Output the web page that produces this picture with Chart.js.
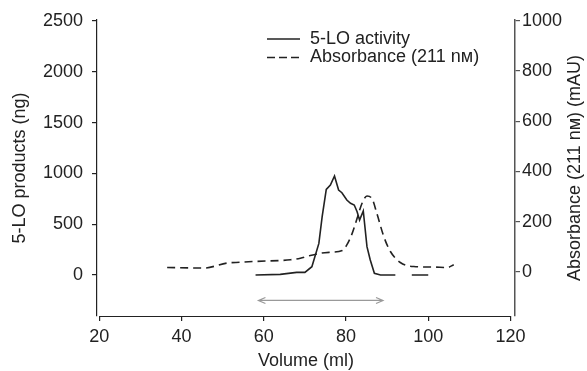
<!DOCTYPE html>
<html>
<head>
<meta charset="utf-8">
<script src="https://cdn.jsdelivr.net/npm/chart.js@4.4.0/dist/chart.umd.min.js"></script>
<style>
  html, body { margin: 0; padding: 0; background: #fff; }
  #wrap { width: 587px; height: 371px; }
</style>
</head>
<body>
<div id="wrap"><canvas id="chart"></canvas></div>
<script>
// values
const activityVolume = [58, 64, 68, 70, 71.7, 73.4, 74.2, 75.2, 76.2, 77.2, 78.2, 79.0, 80.2, 81.1, 82.0, 82.7, 83.3, 84.2, 85.1, 85.9, 86.9, 88.4, 92.0, 94, 96, 100];
const activityNg = [0, 7, 26, 26, 82, 311, 574, 843, 886, 975, 837, 810, 738, 706, 689, 623, 541, 630, 279, 148, 17, 0, 0, null, 0, 0];

const absVolume = [36.5, 45.4, 51.1, 54.3, 57.5, 66.5, 68.9, 71.3, 73.8, 76.2, 79.1, 80.2, 81.5, 82.7, 83.9, 85.1, 86.3, 87.5, 89.2, 90.8, 93.2, 96.5, 101.3, 104.6, 106.2];
const absMau = [17, 15, 35, 38, 41, 48, 54, 65, 74, 78, 85, 107, 153, 213, 273, 302, 292, 233, 140, 81, 37, 21, 19, 17, 28];

const volumeTicks = [20, 40, 60, 80, 100, 120];
const productTicks = [0, 500, 1000, 1500, 2000, 2500];
const absTicks = [0, 200, 400, 600, 800, 1000];

// grey arrow under the peaks (pooled fractions)
const poolRange = [58.7, 89];
const poolLevel = -250;

const ink = '#222';
const grey = '#555';
const fontFamily = '"Liberation Sans", Arial, "DejaVu Sans", sans-serif';
const rightTitle = 'Absorbance (211 n\u1D0D) (mAU)';

function toPoints(xs, ys) {
  return xs.map((v, i) => ({ x: v, y: ys[i] }));
}

function fixTicks(list) {
  return function(scale) {
    scale.ticks = list.map(v => ({ value: v }));
  };
}

const plain = v => String(v);

const extras = {
  id: 'extras',
  afterDraw(chart) {
    const ctx = chart.ctx;
    const xs = chart.scales.x;
    const ys = chart.scales.y;
    const area = chart.chartArea;
    ctx.save();

    // x axis line runs only from the first to the last tick
    ctx.strokeStyle = ink;
    ctx.lineWidth = 1.2;
    ctx.beginPath();
    ctx.moveTo(xs.getPixelForValue(volumeTicks[0]), area.bottom + 0.5);
    ctx.lineTo(xs.getPixelForValue(volumeTicks[volumeTicks.length - 1]), area.bottom + 0.5);
    ctx.stroke();

    // double headed arrow
    const ay = ys.getPixelForValue(poolLevel);
    const a1 = xs.getPixelForValue(poolRange[0]);
    const a2 = xs.getPixelForValue(poolRange[1]);
    ctx.strokeStyle = '#999';
    ctx.lineWidth = 1.2;
    ctx.beginPath();
    ctx.moveTo(a1, ay);
    ctx.lineTo(a2, ay);
    ctx.moveTo(a1 + 7, ay - 3);
    ctx.lineTo(a1, ay);
    ctx.lineTo(a1 + 7, ay + 3);
    ctx.moveTo(a2 - 7, ay - 3);
    ctx.lineTo(a2, ay);
    ctx.lineTo(a2 - 7, ay + 3);
    ctx.stroke();

    // legend
    const lx = area.left + 170;
    const rows = [
      { text: '5-LO activity', dash: [], y: area.top + 19 },
      { text: 'Absorbance (211 n\u1D0D)', dash: [8, 4], y: area.top + 37.5 }
    ];
    ctx.font = '18px ' + fontFamily;
    ctx.fillStyle = ink;
    ctx.textBaseline = 'middle';
    ctx.textAlign = 'left';
    rows.forEach(r => {
      ctx.strokeStyle = ink;
      ctx.lineWidth = 1.6;
      ctx.setLineDash(r.dash);
      ctx.beginPath();
      ctx.moveTo(lx, r.y);
      ctx.lineTo(lx + 33, r.y);
      ctx.stroke();
      ctx.setLineDash([]);
      ctx.fillText(r.text, lx + 43, r.y);
    });

    // right axis title reads bottom to top, like the left one
    ctx.translate(575, (area.top + area.bottom) / 2);
    ctx.rotate(-Math.PI / 2);
    ctx.textAlign = 'center';
    ctx.fillText(rightTitle, 0, 0);
    ctx.restore();
  }
};

new Chart(document.getElementById('chart'), {
  type: 'line',
  data: {
    datasets: [
      {
        label: '5-LO activity',
        data: toPoints(activityVolume, activityNg),
        yAxisID: 'y',
        borderColor: ink,
        borderWidth: 1.6,
        pointRadius: 0,
        tension: 0,
        spanGaps: false
      },
      {
        label: 'Absorbance (211 n\u1D0D)',
        data: toPoints(absVolume, absMau),
        yAxisID: 'y2',
        borderColor: ink,
        borderWidth: 1.6,
        borderDash: [8, 5],
        pointRadius: 0,
        cubicInterpolationMode: 'monotone'
      }
    ]
  },
  options: {
    responsive: true,
    maintainAspectRatio: false,
    animation: false,
    devicePixelRatio: 1,
    layout: { padding: { top: 20, left: 0, right: 0, bottom: 0 } },
    plugins: {
      legend: { display: false },
      tooltip: { enabled: false }
    },
    scales: {
      x: {
        type: 'linear',
        min: 19.44,
        max: 121.1,
        afterBuildTicks: fixTicks(volumeTicks),
        afterFit: s => { s.height = 55; },
        border: { display: false },
        grid: { drawOnChartArea: false, drawTicks: true, tickLength: 5, color: ink, lineWidth: 1.2 },
        ticks: { color: ink, padding: 5, maxRotation: 0, autoSkip: false, callback: plain, font: { family: fontFamily, size: 18 } },
        title: { display: true, text: 'Volume (ml)', color: ink, padding: { top: 0, bottom: 0 }, font: { family: fontFamily, size: 18, lineHeight: 1.1 } }
      },
      y: {
        position: 'left',
        min: -403,
        max: 2510,
        afterBuildTicks: fixTicks(productTicks),
        afterFit: s => { s.width = 97; },
        border: { display: true, color: ink, width: 1.2 },
        grid: { drawOnChartArea: false, drawTicks: true, tickLength: 5, color: ink, lineWidth: 1.2 },
        ticks: { color: ink, padding: 9, callback: plain, font: { family: fontFamily, size: 18 } },
        title: { display: true, text: '5-LO products (ng)', color: ink, padding: { top: 9, bottom: 0 }, font: { family: fontFamily, size: 18 } }
      },
      y2: {
        position: 'right',
        min: -176,
        max: 1003,
        afterBuildTicks: fixTicks(absTicks),
        afterFit: s => { s.width = 72; },
        border: { display: true, color: grey, width: 1.5 },
        grid: { drawOnChartArea: false, drawTicks: true, tickLength: 5, color: grey, lineWidth: 1.2 },
        ticks: { color: ink, padding: 2, callback: plain, font: { family: fontFamily, size: 18 } },
        title: { display: false }
      }
    }
  },
  plugins: [extras]
});
</script>
</body>
</html>
